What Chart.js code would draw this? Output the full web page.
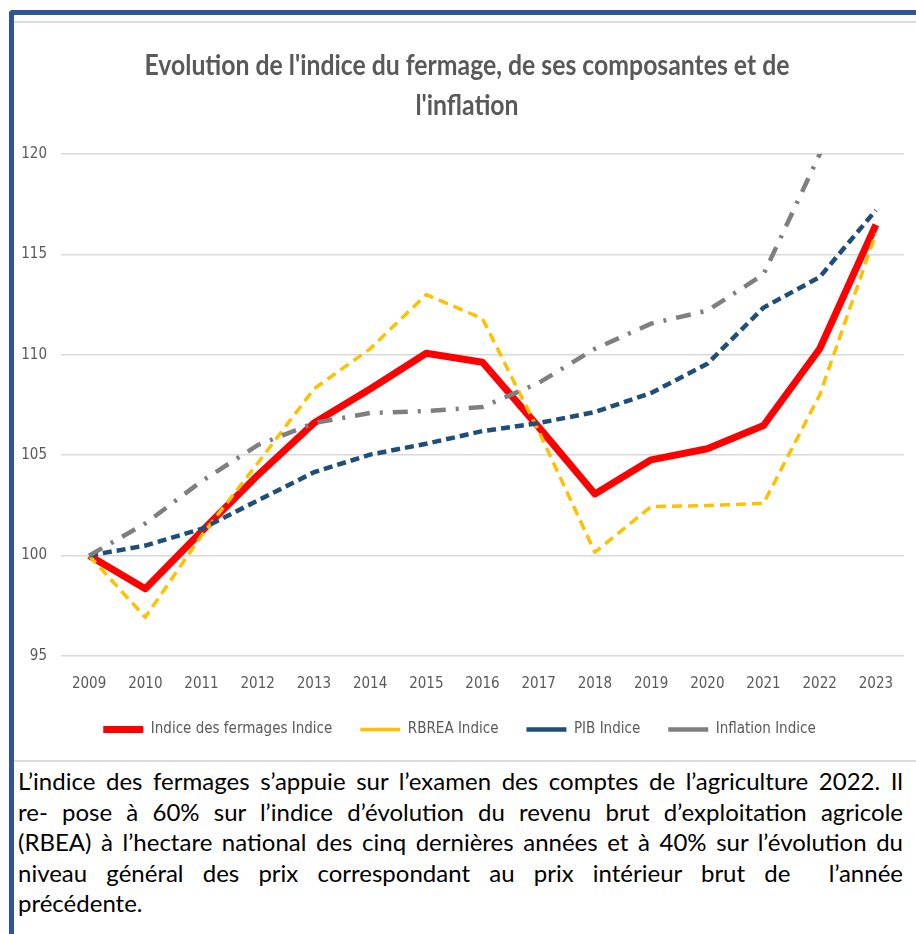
<!DOCTYPE html>
<html>
<head>
<meta charset="utf-8">
<script src="https://cdn.jsdelivr.net/npm/chart.js@4.4.1/dist/chart.umd.min.js"></script>
<style>
  html, body { margin: 0; padding: 0; background: #ffffff; }
  body { width: 916px; height: 934px; position: relative; overflow: hidden; }
  .frame {
    position: absolute; left: 9px; top: 10px; right: -10px; bottom: -10px;
    border-left: 5px solid #2f5597; border-top: 5px solid #2f5597;
    border-top-left-radius: 4px;
  }
  .topline { position: absolute; left: 14px; right: 0; top: 21px; height: 2px; background: #dcdcdc; }
  .sepline { position: absolute; left: 14px; right: 0; top: 760px; height: 2px; background: #dcdcdc; }
  .chart-box { position: absolute; left: 15px; top: 23px; width: 901px; height: 737px; }
  .title {
    position: absolute; left: 467px; top: 44px;
    font-family: Lato, "Open Sans", sans-serif; font-weight: bold; font-size: 29px; line-height: 40px;
    color: #595959; text-align: center; white-space: nowrap;
    transform-origin: center top;
  }
  .note {
    position: absolute; left: 18px; top: 766px; width: 885px;
    font-family: Lato, "Open Sans", sans-serif; font-size: 24px; line-height: 30.5px; color: #000;
  }
  .note div { text-align: justify; text-align-last: justify; white-space: nowrap; }
  .note div.last { text-align-last: left; }
</style>
</head>
<body>
<div class="frame"></div>
<div class="topline"></div>
<div class="sepline"></div>
<div class="chart-box"><canvas id="lineChart"></canvas></div>
<div class="title" id="title">Evolution de l'indice du fermage, de ses composantes et de<br>l'inflation</div>
<div class="note">
  <div>L’indice des fermages s’appuie sur l’examen des comptes de l’agriculture 2022. Il</div>
  <div>re- pose à 60% sur l’indice d’évolution du revenu brut d’exploitation agricole</div>
  <div>(RBEA) à l’hectare national des cinq dernières années et à 40% sur l’évolution du</div>
  <div>niveau général des prix correspondant au prix intérieur brut de &nbsp;l’année</div>
  <div class="last">précédente.</div>
</div>
<script>
const years = ["2009", "2010", "2011", "2012", "2013", "2014", "2015", "2016", "2017", "2018", "2019", "2020", "2021", "2022", "2023"];

const fermages = [100, 98.35, 101.2, 104.0, 106.6, 108.3, 110.08, 109.63, 106.4, 103.07, 104.77, 105.32, 106.48, 110.3, 116.48];
const rbrea = [100, 96.93, 101.0, 104.6, 108.3, 110.3, 113.0, 111.8, 106.2, 100.17, 102.44, 102.49, 102.6, 108.0, 116.05];
const pib = [100, 100.5, 101.33, 102.74, 104.15, 105.03, 105.57, 106.2, 106.6, 107.15, 108.1, 109.55, 112.35, 113.87, 117.2];
const inflation = [100, 101.6, 103.7, 105.5, 106.6, 107.1, 107.2, 107.4, 108.6, 110.3, 111.55, 112.2, 114.0, 120.0, 124.5];

const yTicks = [95, 100, 105, 110, 115, 120];

const narrow = '"DejaVu Sans Condensed", "Liberation Sans", sans-serif';
const grayText = "#595959";

// title is squeezed horizontally like in the original picture
const titleEl = document.getElementById("title");
const titleWidth = titleEl.getBoundingClientRect().width;
titleEl.style.transform = "translateX(-50%) scaleX(" + (645 / titleWidth) + ")";

new Chart(document.getElementById("lineChart"), {
  type: "line",
  data: {
    labels: years,
    datasets: [
      {
        label: "Indice des fermages Indice",
        data: fermages,
        borderColor: "#ff0000",
        backgroundColor: "#ff0000",
        borderWidth: 7,
        order: 4,
      },
      {
        label: "RBREA Indice",
        data: rbrea,
        borderColor: "#ffc000",
        backgroundColor: "#ffc000",
        borderWidth: 3.5,
        borderDash: [10, 6],
        order: 3,
      },
      {
        label: "PIB Indice",
        data: pib,
        borderColor: "#1f4e79",
        backgroundColor: "#1f4e79",
        borderWidth: 4.5,
        borderDash: [9, 5],
        order: 2,
      },
      {
        label: "Inflation Indice",
        data: inflation,
        borderColor: "#7f7f7f",
        backgroundColor: "#7f7f7f",
        borderWidth: 4.5,
        borderDash: [15, 10, 3, 10],
        order: 1,
      },
    ],
  },
  options: {
    responsive: true,
    maintainAspectRatio: false,
    animation: false,
    elements: {
      point: { radius: 0, hoverRadius: 0 },
      line: { tension: 0, borderJoinStyle: "round" },
    },
    layout: {
      padding: { left: 0, right: 12, top: 131, bottom: 13 },
    },
    scales: {
      x: {
        offset: true,
        grid: { display: false, drawTicks: false },
        border: { display: false },
        afterFit(scale) {
          scale.height = 38;
        },
        ticks: {
          color: grayText,
          padding: 19,
          maxRotation: 0,
          font: { family: narrow, size: 15 },
        },
      },
      y: {
        min: 95,
        max: 120,
        afterBuildTicks(scale) {
          scale.ticks = yTicks.map((v) => ({ value: v }));
        },
        afterFit(scale) {
          scale.width = 46;
        },
        grid: { color: "#d9d9d9", lineWidth: 1.5, drawTicks: false },
        border: { display: false },
        ticks: {
          color: grayText,
          padding: 14,
          font: { family: narrow, size: 15 },
        },
      },
    },
    plugins: {
      tooltip: { enabled: false },
      title: { display: false },
      legend: {
        position: "bottom",
        reverse: true,
        labels: {
          color: grayText,
          usePointStyle: true,
          pointStyle: "line",
          pointStyleWidth: 40,
          boxHeight: 10,
          padding: 28,
          font: { family: narrow, size: 15 },
        },
      },
    },
  },
});
</script>
</body>
</html>
